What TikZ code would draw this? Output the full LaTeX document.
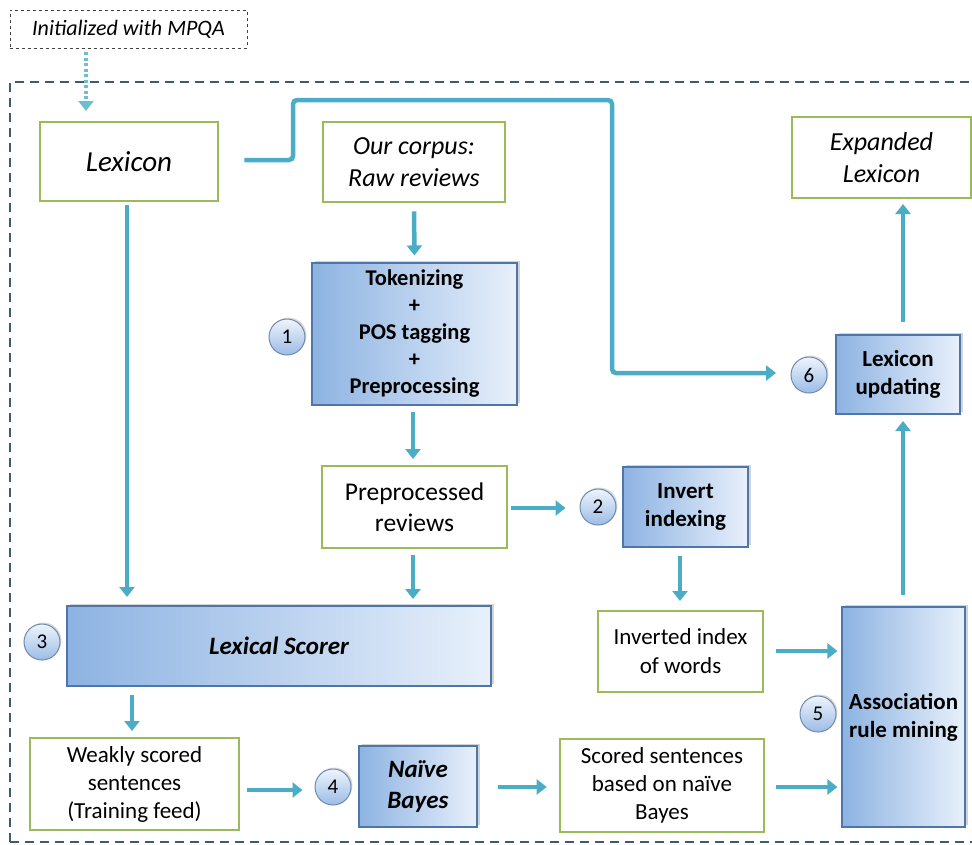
\documentclass[tikz,border=0pt]{standalone}
\usepackage{fontspec}
\setmainfont{Carlito}
\usetikzlibrary{arrows.meta,shadows,calc}
\definecolor{gborder}{HTML}{9BBB59}
\definecolor{arrc}{HTML}{4BACC6}
\definecolor{bleft}{HTML}{8DB3E2}
\definecolor{bright}{HTML}{E8F0FB}
\definecolor{bborder}{HTML}{4F76AA}
\definecolor{frm}{HTML}{3E5C70}
\definecolor{ctop}{HTML}{EEF4FC}
\definecolor{cbot}{HTML}{9CBCE6}
\definecolor{cbord}{HTML}{6E8BAE}
\tikzset{
  gbox/.style={draw=gborder, line width=2.6pt, fill=white, inner sep=0pt, align=center},
  bbox/.style={draw=bborder, line width=1.1pt, left color=bleft, right color=bright, inner sep=0pt, align=center,
     drop shadow={shadow xshift=2.5pt, shadow yshift=2.5pt, opacity=0.35}},
  numc/.style={circle, draw=cbord, line width=1pt, top color=ctop, bottom color=cbot, minimum size=36pt, inner sep=0pt,
     font=\fontsize{21}{24}\selectfont, drop shadow={shadow xshift=1.5pt, shadow yshift=1.5pt, opacity=0.3}},
  arr/.style={draw=arrc, line width=4.5pt, -{Triangle[length=10pt,width=15pt]}},
}
\begin{document}
\begin{tikzpicture}[x=1pt,y=-1pt]
\useasboundingbox (0,0) rectangle (972,844);
% frame
\draw[frm, line width=1.8pt, dash pattern=on 9pt off 6pt] (10,842) -- (10,82) -- (990,82);
\draw[frm, line width=1.8pt, dash pattern=on 9pt off 6pt] (10,842) -- (990,842);
% init
\node[draw=black!75, dashed, line width=0.8pt, minimum width=237pt, minimum height=38pt, inner sep=0pt,
  font=\fontsize{22}{26}\selectfont\itshape] (init) at (128.5,29) {Initialized with MPQA};
% green boxes
\node[gbox, minimum width=178pt, minimum height=79pt, font=\fontsize{29}{34}\selectfont\itshape] (lex) at (129,161.5) {Lexicon};
\node[gbox, minimum width=182pt, minimum height=80pt, font=\fontsize{26}{32}\selectfont\itshape] (corp) at (414,162) {Our corpus:\\Raw reviews};
\node[gbox, minimum width=179pt, minimum height=81pt, font=\fontsize{26}{32}\selectfont\itshape] (exp) at (881.5,157.5) {Expanded\\Lexicon};
\node[gbox, minimum width=185pt, minimum height=82pt, font=\fontsize{25.5}{31}\selectfont] (prep) at (414.5,507) {Preprocessed\\reviews};
\node[gbox, minimum width=165pt, minimum height=81pt, font=\fontsize{23}{29}\selectfont] (inv) at (680.5,651.5) {Inverted index\\of words};
\node[gbox, minimum width=209pt, minimum height=92pt, font=\fontsize{23}{28}\selectfont] (weak) at (134.5,784) {Weakly scored\\sentences\\(Training feed)};
\node[gbox, minimum width=204pt, minimum height=93pt, font=\fontsize{23}{28}\selectfont] (scored) at (662,785.5) {Scored sentences\\based on naïve\\Bayes};
% blue boxes
\node[bbox, minimum width=205pt, minimum height=142pt, font=\fontsize{22.5}{27}\selectfont\bfseries] (tok) at (414.5,334) {Tokenizing\\+\\POS tagging\\+\\Preprocessing};
\node[bbox, minimum width=124pt, minimum height=79pt, font=\fontsize{23}{28}\selectfont\bfseries] (upd) at (898,374.5) {Lexicon\\updating};
\node[bbox, minimum width=125pt, minimum height=80pt, font=\fontsize{23}{28}\selectfont\bfseries] (invx) at (685.5,507) {Invert\\indexing};
\node[bbox, minimum width=424pt, minimum height=80pt, font=\fontsize{25}{28}\selectfont\bfseries\itshape] (lsc) at (279,646) {Lexical Scorer};
\node[bbox, minimum width=123pt, minimum height=220pt, font=\fontsize{23}{28}\selectfont\bfseries] (assoc) at (903.5,717) {Association\\rule mining};
\node[bbox, minimum width=118pt, minimum height=81pt, font=\fontsize{25}{31}\selectfont\bfseries\itshape] (nb) at (418,786.5) {Naïve\\Bayes};
% number circles
\node[numc] (c1) at (287,337) {1};
\node[numc] (c2) at (598,507) {2};
\node[numc] (c3) at (42,642) {3};
\node[numc] (c4) at (333,787) {4};
\node[numc] (c5) at (818,714) {5};
\node[numc] (c6) at (809,375) {6};
% arrows
\draw[draw=arrc!80, line width=4.5pt, dash pattern=on 3pt off 2.5pt, -{Triangle[length=10pt,width=15pt]}, shorten <=4pt, shorten >=11pt] (init.south -| 86,0) -- (86,122);
\draw[arr] (127,205) -- (127,597);
\draw[arr, rounded corners=4pt] ([xshift=25pt]lex.east |- 0,160) -- (293,160) -- (293,100) -- (612,100) -- (612,373) -- (776,373);
\draw[arr, shorten <=8pt, shorten >=7pt] (corp.south) -- (tok.north);
\draw[arr, shorten <=7pt, shorten >=7pt] (413,405) -- (413,466);
\draw[arr, shorten <=3pt, shorten >=14pt] (prep.east |- 0,508) -- (c2.west |- 0,508);
\draw[arr, shorten <=7pt, shorten >=7pt] (413,548) -- (413,606);
\draw[arr, shorten <=9pt, shorten >=10pt] (680,547) -- (680,611);
\draw[arr, shorten <=12pt, shorten >=4pt] (inv.east |- 0,651) -- (assoc.west |- 0,651);
\draw[arr, shorten <=11pt, shorten >=4pt] (scored.east |- 0,787) -- (assoc.west |- 0,787);
\draw[arr, shorten <=12pt, shorten >=7pt] (903,607) -- (903,414);
\draw[arr, shorten <=13pt, shorten >=6pt] (903,335) -- (903,198);
\draw[arr, shorten <=9pt, shorten >=7pt] (132,686) -- (132,738);
\draw[arr, shorten <=7pt, shorten >=12pt] (weak.east |- 0,790) -- (c4.west |- 0,790);
\draw[arr, shorten <=20pt, shorten >=12pt] (nb.east |- 0,787) -- (scored.west |- 0,787);
\end{tikzpicture}
\end{document}
